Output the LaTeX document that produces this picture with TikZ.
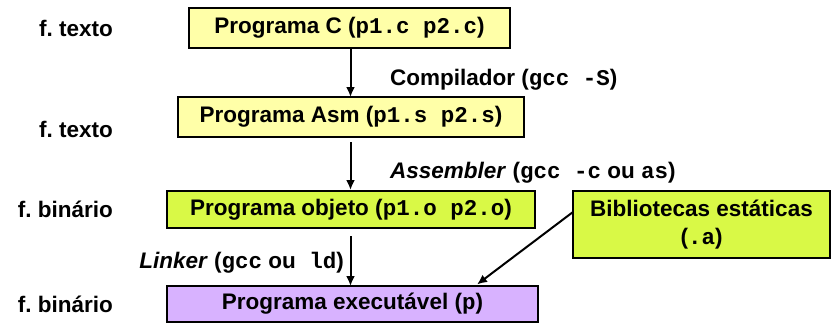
\documentclass[tikz,border=0pt]{standalone}
\usepackage{fontspec}
\setmainfont{Liberation Sans}
\setmonofont{Liberation Mono}
\usetikzlibrary{arrows.meta}
\frenchspacing
\definecolor{lightyel}{HTML}{FFFFA8}
\definecolor{limegr}{HTML}{D9F946}
\definecolor{lilac}{HTML}{D8B2FF}
\begin{document}
\begin{tikzpicture}[x=1pt,y=-1pt,
  every node/.style={font=\fontsize{22.5}{27}\selectfont\bfseries, inner sep=0pt},
  box/.style={draw=black, line width=2.6pt, align=center},
  conn/.style={line width=2pt, -{Latex[length=10pt,width=9pt]}}]
\useasboundingbox (0,0) rectangle (836,324);
% boxes
\node[box, fill=lightyel, minimum width=321pt, minimum height=40pt] (c) at (349.5,28) {Programa C (\texttt{p1.c p2.c})};
\node[box, fill=lightyel, minimum width=346pt, minimum height=40pt] (asm) at (351,117) {Programa Asm (\texttt{p1.s p2.s})};
\node[box, fill=limegr, minimum width=368pt, minimum height=37pt] (obj) at (351,209.5) {Programa objeto (\texttt{p1.o p2.o})};
\node[box, fill=lilac, minimum width=371pt, minimum height=36pt] (exe) at (352.5,304) {Programa executável (\texttt{p})};
\node[box, fill=limegr, minimum width=257pt, minimum height=67pt] (lib) at (701.5,224.5) {Bibliotecas estáticas\\[1pt](\texttt{.a})};
% side labels
\node[anchor=base east] (t1) at (113,36) {f. texto};
\node[anchor=base east] (t2) at (113,137) {f. texto};
\node[anchor=base east] (b1) at (113,217) {f. binário};
\node[anchor=base east] (b2) at (113,312) {f. binário};
% step labels
\node[anchor=base west] (lc) at (390,85) {Compilador (\texttt{gcc -S})};
\node[anchor=base west] (la) at (390,178) {\textit{Assembler} (\texttt{gcc -c} ou \texttt{as})};
\node[anchor=base east] (ll) at (344,268) {\textit{Linker} (\texttt{gcc} ou\texttt{\ ld})};
% connector endpoints
\coordinate (a1s) at (350.5,48);
\coordinate (a1e) at (350.5,97);
\coordinate (a2s) at (350.5,142);
\coordinate (a2e) at (350.5,190);
\coordinate (a3s) at (350.5,236);
\coordinate (a3e) at (350.5,286);
\coordinate (d1s) at (573,212);
\coordinate (d1e) at (477,284.5);
\draw[conn] (a1s) -- (a1e);
\draw[conn] (a2s) -- (a2e);
\draw[conn] (a3s) -- (a3e);
\draw[conn] (d1s) -- (d1e);
\end{tikzpicture}
\end{document}
